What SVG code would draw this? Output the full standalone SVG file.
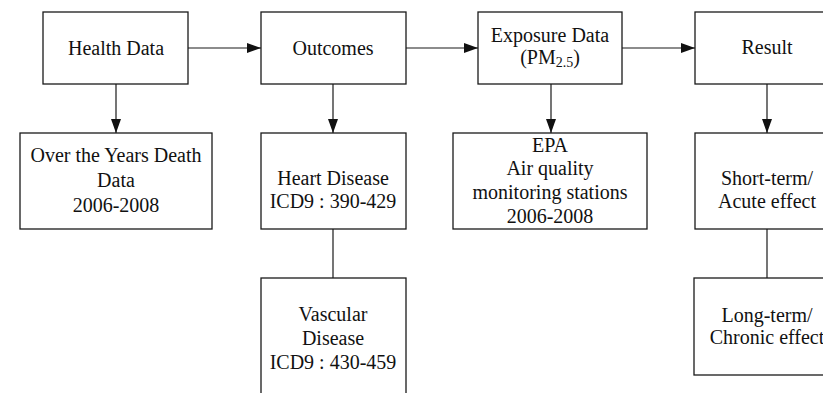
<svg xmlns="http://www.w3.org/2000/svg" width="823" height="393" viewBox="0 0 823 393">
  <style>
    .box { fill: #ffffff; stroke: #1a1a1a; stroke-width: 1.3; }
    .lbl { font-family: 'Liberation Serif', 'DejaVu Serif', 'Times New Roman', Times, serif; font-size: 20px; fill: #111111; text-anchor: middle; }
    .sub { font-size: 14px; }
    .edge { stroke: #1a1a1a; stroke-width: 1.2; fill: none; }
  </style>
  <defs>
    <marker id="arrow" viewBox="0 0 14 10" refX="14" refY="5" markerWidth="14" markerHeight="10" markerUnits="userSpaceOnUse" orient="auto">
      <path d="M0,0 L14,5 L0,10 Z" fill="#111111"/>
    </marker>
  </defs>
  <rect width="823" height="393" fill="#ffffff"/>

  <g id="connectors">
    <line class="edge" x1="188" y1="48" x2="261" y2="48" marker-end="url(#arrow)"/>
    <line class="edge" x1="406" y1="48" x2="478" y2="48" marker-end="url(#arrow)"/>
    <line class="edge" x1="622" y1="48" x2="695" y2="48" marker-end="url(#arrow)"/>
    <line class="edge" x1="116" y1="84" x2="116" y2="133" marker-end="url(#arrow)"/>
    <line class="edge" x1="333" y1="84" x2="333" y2="133" marker-end="url(#arrow)"/>
    <line class="edge" x1="551" y1="84" x2="551" y2="133" marker-end="url(#arrow)"/>
    <line class="edge" x1="767" y1="84" x2="767" y2="133" marker-end="url(#arrow)"/>
    <line class="edge" x1="333" y1="229" x2="333" y2="278"/>
    <line class="edge" x1="767" y1="229" x2="767" y2="278"/>
  </g>

  <g id="health-data">
    <rect class="box" x="43" y="12" width="145" height="72"/>
    <text class="lbl" x="116" y="55" font-family="Liberation Serif, serif">Health Data</text>
  </g>

  <g id="outcomes">
    <rect class="box" x="261" y="12" width="145" height="72"/>
    <text class="lbl" x="333" y="55">Outcomes</text>
  </g>

  <g id="exposure-data">
    <rect class="box" x="478" y="12" width="144" height="72"/>
    <text class="lbl" x="550" y="42">Exposure Data</text>
    <text class="lbl" x="550" y="64">(PM<tspan class="sub" dy="3">2.5</tspan><tspan dy="-3">)</tspan></text>
  </g>

  <g id="result">
    <rect class="box" x="695" y="12" width="145" height="72"/>
    <text class="lbl" x="767" y="54">Result</text>
  </g>

  <g id="death-data">
    <rect class="box" x="20" y="133" width="192" height="96"/>
    <text class="lbl" x="116" y="162">Over the Years Death</text>
    <text class="lbl" x="116" y="187">Data</text>
    <text class="lbl" x="116" y="212">2006-2008</text>
  </g>

  <g id="heart-disease">
    <rect class="box" x="261" y="133" width="145" height="96"/>
    <text class="lbl" x="333" y="185">Heart Disease</text>
    <text class="lbl" x="333" y="208">ICD9 : 390-429</text>
  </g>

  <g id="epa-stations">
    <rect class="box" x="453" y="133" width="194" height="96"/>
    <text class="lbl" x="550" y="152">EPA</text>
    <text class="lbl" x="550" y="175">Air quality</text>
    <text class="lbl" x="550" y="199">monitoring stations</text>
    <text class="lbl" x="550" y="223">2006-2008</text>
  </g>

  <g id="short-term">
    <rect class="box" x="695" y="133" width="145" height="96"/>
    <text class="lbl" x="767" y="185">Short-term/</text>
    <text class="lbl" x="767" y="208">Acute effect</text>
  </g>

  <g id="vascular-disease">
    <rect class="box" x="261" y="278" width="145" height="130"/>
    <text class="lbl" x="333" y="321">Vascular</text>
    <text class="lbl" x="333" y="345">Disease</text>
    <text class="lbl" x="333" y="369">ICD9 : 430-459</text>
  </g>

  <g id="long-term">
    <rect class="box" x="694" y="278" width="146" height="97"/>
    <text class="lbl" x="767" y="322">Long-term/</text>
    <text class="lbl" x="767" y="344">Chronic effect</text>
  </g>
</svg>
